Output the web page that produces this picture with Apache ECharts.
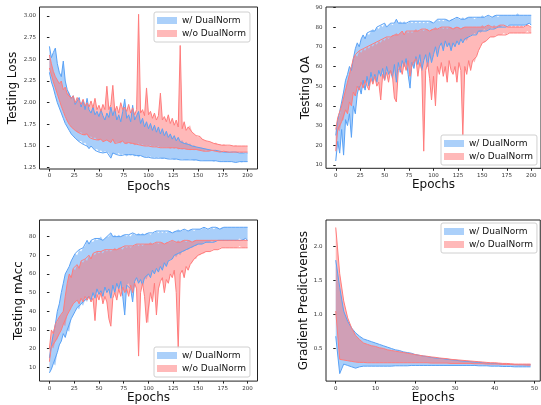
<!DOCTYPE html>
<html><head><meta charset="utf-8">
<script src="https://cdn.jsdelivr.net/npm/echarts@6/dist/echarts.min.js"></script>
<style>html,body{margin:0;padding:0;background:#fff}#c{width:541px;height:405px}</style>
</head><body><div id="c"></div>
<script>
const epochs = [0,2,4,6,8,10,12,14,16,18,20,22,24,26,28,30,32,34,36,38,40,42,44,46,48,50,52,54,56,58,60,62,64,66,68,70,72,74,76,78,80,82,84,86,88,90,92,94,96,98,100,102,104,106,108,110,112,114,116,118,120,122,124,126,128,130,132,134,136,138,140,142,144,146,148,150,152,154,156,158,160,162,164,166,168,170,172,174,176,178,180,182,184,186,188,190,192,194,196,198,200];
const gpEpochs = [0,1,2,3,4,5,6,7,8,9,10,11,12,13,14,15,16,17,18,19,20,21,22,23,24,25,26,27,28,29,30,31,32,33,34,35,36,37,38,39,40,41,42,43,44,45,46,47,48,49];

const epochTicks = [0,25,50,75,100,125,150,175,200];
const gpEpochTicks = [0,10,20,30,40,50];
const lossTicks = [1.25,1.5,1.75,2.0,2.25,2.5,2.75,3.0];
const oaTicks = [10,20,30,40,50,60,70,80,90];
const maccTicks = [10,20,30,40,50,60,70,80];
const gpTicks = [0.5,1.0,1.5,2.0];

const seriesNames = ['w/ DualNorm','w/o DualNorm'];

// Testing Loss
const lossWUp = [2.65,2.52,2.58,2.63,2.45,2.35,2.30,2.48,2.25,2.15,
2.10,2.05,2.08,1.98,2.02,2.06,1.95,2.03,1.92,2.05,
1.92,1.88,1.95,1.86,1.90,1.84,1.92,1.85,1.80,1.88,
1.83,1.95,1.85,1.93,1.80,1.86,1.78,1.90,2.04,1.82,
1.86,1.78,1.97,1.80,1.85,1.90,1.76,1.82,1.72,1.78,
1.70,1.76,1.68,1.74,1.66,1.72,1.64,1.70,1.62,1.67,
1.60,1.64,1.58,1.62,1.56,1.60,1.55,1.57,1.53,1.55,
1.52,1.53,1.50,1.51,1.49,1.49,1.48,1.48,1.47,1.47,
1.46,1.46,1.45,1.45,1.45,1.44,1.44,1.44,1.43,1.44,
1.43,1.43,1.43,1.42,1.43,1.42,1.42,1.42,1.42,1.41,
1.42];
const lossWLo = [2.35,2.24,2.17,2.08,2.00,1.94,1.88,1.82,1.76,1.72,
1.68,1.64,1.62,1.59,1.57,1.55,1.56,1.52,1.54,1.50,
1.47,1.50,1.48,1.45,1.47,1.43,1.45,1.42,1.44,1.43,
1.42,1.36,1.42,1.41,1.40,1.42,1.39,1.41,1.40,1.38,
1.40,1.39,1.40,1.38,1.39,1.37,1.39,1.38,1.37,1.38,
1.37,1.38,1.36,1.37,1.36,1.37,1.36,1.35,1.36,1.36,
1.35,1.36,1.35,1.34,1.35,1.35,1.34,1.35,1.34,1.34,
1.34,1.35,1.34,1.33,1.34,1.33,1.33,1.34,1.33,1.33,
1.33,1.33,1.33,1.32,1.33,1.33,1.32,1.33,1.32,1.32,
1.32,1.32,1.32,1.32,1.31,1.32,1.32,1.31,1.32,1.32,
1.32];
const lossWoUp = [2.55,2.45,2.36,2.30,2.26,2.22,2.25,2.15,2.18,2.10,
2.12,2.05,2.08,2.00,2.06,2.02,1.98,2.04,1.96,2.00,
1.95,2.02,1.94,2.05,1.92,1.97,1.90,1.98,1.92,2.19,
1.92,1.98,2.20,1.90,1.96,1.88,2.00,1.92,1.95,1.90,
1.98,1.88,1.94,1.86,1.92,3.02,1.88,1.92,1.85,2.17,
1.86,1.90,1.82,1.88,1.80,1.85,2.11,1.80,1.84,1.78,
1.86,1.76,1.82,1.74,1.80,1.72,2.66,1.70,1.78,1.68,
1.72,1.74,1.66,1.64,1.62,1.60,1.61,1.58,1.57,1.56,
1.55,1.55,1.54,1.53,1.54,1.52,1.52,1.51,1.52,1.51,
1.50,1.51,1.50,1.50,1.51,1.50,1.50,1.50,1.50,1.50,
1.50];
const lossWoLo = [2.40,2.32,2.24,2.17,2.10,2.03,1.96,1.90,1.84,1.79,
1.75,1.72,1.70,1.68,1.66,1.65,1.66,1.63,1.62,1.64,
1.60,1.61,1.58,1.60,1.57,1.56,1.58,1.55,1.56,1.57,
1.55,1.54,1.58,1.53,1.55,1.54,1.53,1.56,1.53,1.52,
1.54,1.52,1.53,1.51,1.52,1.53,1.51,1.52,1.50,1.51,
1.50,1.51,1.49,1.50,1.49,1.50,1.48,1.49,1.48,1.49,
1.48,1.47,1.48,1.47,1.48,1.46,1.47,1.46,1.47,1.46,
1.46,1.45,1.46,1.45,1.46,1.45,1.45,1.45,1.44,1.45,
1.44,1.44,1.45,1.44,1.44,1.44,1.43,1.44,1.44,1.43,
1.43,1.44,1.43,1.43,1.43,1.43,1.43,1.42,1.43,1.43,
1.43];

// Testing OA
const oaWUp = [25,33,37,42,47,53,56,60,58,64,
69,72,70,74,76,74,77,76,78,79,
78,80,79,81,80,82,80,81,82,81,
82,84,82,83,82,83,82,82,83,82,
83,82,83,82,83,82,83,82,83,83,
82,83,84,83,84,83,84,84,83,84,
84,84,85,84,84,85,84,85,85,85,
85,84,85,85,85,86,85,85,86,85,
85,86,86,85,86,86,86,86,86,86,
86,86,86,87,86,86,86,86,86,86,
86];
const oaWLo = [12,22,16,28,15,33,30,36,24,40,
36,46,50,46,53,48,55,50,57,52,
56,52,58,55,59,53,60,56,58,54,
61,52,62,57,63,60,64,56,49,62,
59,65,61,66,58,63,66,60,67,62,
66,70,65,70,72,68,73,70,72,68,
72,70,73,71,74,72,74,73,75,76,
76,77,76,78,77,78,79,78,79,79,
80,79,80,80,80,80,81,80,81,81,
81,81,81,81,81,81,81,81,81,82,
81];
const oaWoUp = [28,34,35,40,44,48,52,56,60,64,
66,65,68,67,69,68,70,69,71,70,
72,71,73,72,74,73,75,74,75,76,
76,77,76,77,78,76,78,77,78,77,
78,79,78,78,79,78,79,79,78,79,
79,80,79,79,80,79,80,79,80,80,
79,80,80,80,79,80,80,80,80,80,
80,80,80,80,80,81,80,80,81,80,
80,81,80,80,81,80,81,80,80,81,
80,81,80,81,80,81,80,80,81,80,
80];
const oaWoLo = [17,28,27,32,33,38,36,42,40,47,
45,50,48,52,49,53,50,48,54,51,
55,50,52,43,56,53,57,52,58,55,
44,42,58,60,56,62,58,63,55,61,
60,64,55,62,58,17,58,62,54,43,
55,40,60,56,62,55,60,52,63,58,
56,60,52,62,58,25,60,56,63,58,
63,62,65,68,70,72,72,73,74,75,
75,75,76,76,76,76,77,76,77,77,
77,77,77,77,77,77,77,77,78,77,
77];

// Testing mAcc
const maccWUp = [15,22,28,33,40,44,50,55,60,62,
64,67,69,71,70,73,72,74,75,78,
76,78,77,79,78,79,80,78,79,80,
80,82,80,81,80,81,80,81,81,80,
81,80,82,81,81,82,81,82,81,82,
82,81,82,82,83,82,83,82,83,82,
83,83,82,83,83,84,83,83,84,83,
83,84,84,83,84,84,84,84,85,84,
84,84,85,84,85,85,84,85,85,85,
85,85,85,85,85,85,85,85,85,85,
85];
const maccWLo = [7,9,12,11,18,22,24,28,26,30,
29,36,38,40,42,41,44,43,46,45,
48,46,50,47,52,49,51,48,53,50,
52,47,54,50,55,52,56,48,38,54,
55,52,45,56,58,55,57,54,58,57,
60,58,62,60,63,61,64,62,66,64,
67,68,68,70,69,71,70,72,72,73,
73,74,74,75,75,76,76,76,77,77,
77,77,78,77,78,78,78,78,78,78,
78,78,78,78,78,78,79,78,78,79,
78];
const maccWoUp = [20,30,28,33,34,37,38,40,48,55,
60,58,63,62,65,63,67,66,68,67,
70,68,71,70,72,71,72,71,73,72,
73,72,73,74,73,74,74,73,75,74,
75,74,75,75,76,75,76,75,76,76,
76,77,76,76,77,76,77,77,76,77,
77,77,78,77,77,78,77,78,78,77,
78,78,77,78,78,78,78,78,78,78,
78,78,78,78,78,78,78,78,78,78,
78,78,78,78,78,78,78,78,78,78,
78];
const maccWoLo = [13,21,20,24,25,28,30,33,32,38,
40,42,44,45,46,44,47,45,48,46,
48,45,47,35,49,46,50,44,48,45,
36,32,47,50,46,52,48,53,50,52,
48,54,50,55,52,16,50,55,48,34,
34,50,45,55,38,52,56,58,50,57,
55,60,58,62,50,20,60,62,58,64,
62,65,66,68,68,70,70,71,71,72,
72,72,73,73,73,73,74,74,74,74,
74,74,74,74,74,74,75,74,74,74,
74];

// Gradient Predictiveness
const gpWUp = [1.80,1.40,1.05,0.90,0.80,0.73,0.68,0.64,0.62,0.60,
0.58,0.56,0.54,0.52,0.50,0.48,0.47,0.45,0.44,0.43,
0.41,0.40,0.39,0.38,0.37,0.36,0.355,0.35,0.34,0.335,
0.33,0.32,0.315,0.31,0.305,0.30,0.295,0.29,0.285,0.28,
0.28,0.275,0.27,0.27,0.265,0.265,0.26,0.26,0.26,0.26];
const gpWLo = [0.68,0.13,0.27,0.25,0.23,0.21,0.23,0.24,0.24,0.24,
0.24,0.24,0.24,0.24,0.24,0.245,0.245,0.245,0.245,0.25,
0.25,0.25,0.25,0.25,0.25,0.25,0.25,0.25,0.25,0.25,
0.25,0.25,0.25,0.25,0.25,0.25,0.245,0.245,0.245,0.24,
0.24,0.24,0.235,0.235,0.235,0.23,0.23,0.23,0.23,0.23];
const gpWoUp = [2.28,1.60,1.20,0.95,0.80,0.69,0.63,0.58,0.56,0.54,
0.53,0.51,0.50,0.48,0.47,0.46,0.45,0.44,0.43,0.42,
0.41,0.40,0.39,0.385,0.375,0.37,0.36,0.355,0.35,0.34,
0.335,0.33,0.325,0.32,0.315,0.31,0.305,0.30,0.295,0.29,
0.29,0.285,0.28,0.28,0.275,0.27,0.27,0.27,0.27,0.27];
const gpWoLo = [1.05,0.34,0.33,0.32,0.31,0.30,0.295,0.295,0.29,0.29,
0.29,0.29,0.29,0.29,0.29,0.29,0.29,0.29,0.29,0.29,
0.29,0.29,0.29,0.29,0.285,0.285,0.285,0.285,0.285,0.28,
0.28,0.28,0.28,0.28,0.28,0.275,0.275,0.275,0.27,0.27,
0.27,0.27,0.265,0.265,0.265,0.26,0.26,0.26,0.255,0.255];

const FONT = 'DejaVu Sans';
const BLUE_LINE = '#5aa2f6', BLUE_FILL = 'rgba(64,148,245,0.45)', BLUE_PATCH = '#abd0fa';
const RED_LINE = '#ff7c7c', RED_FILL = 'rgba(255,100,100,0.45)', RED_PATCH = '#ffb9b9';

const grids = [
  {left:39.5, top:7, width:218, height:162},
  {left:326, top:7, width:218, height:161.3},
  {left:39.5, top:220, width:218, height:161.7},
  {left:326, top:220, width:216, height:161.7}
];

function xAx(gi, min, max, ticks, gap) {
  return {type:'value', gridIndex:gi, min:min, max:max, name:'Epochs', nameLocation:'middle', nameGap:gap,
    nameTextStyle:{fontSize:12, color:'#111', fontFamily:FONT},
    axisLine:{show:false}, splitLine:{show:false},
    axisTick:{show:true, length:2.5, lineStyle:{color:'#222', width:1}, customValues:ticks},
    axisLabel:{fontSize:5.5, color:'#333', fontFamily:FONT, margin:4, customValues:ticks}};
}
function yAx(gi, min, max, ticks, name, gap, dec) {
  return {type:'value', gridIndex:gi, min:min, max:max, name:name, nameLocation:'middle', nameGap:gap,
    nameTextStyle:{fontSize:12, color:'#111', fontFamily:FONT},
    axisLine:{show:false}, splitLine:{show:false},
    axisTick:{show:true, length:2.5, lineStyle:{color:'#222', width:1}, customValues:ticks},
    axisLabel:{fontSize:5.5, color:'#333', fontFamily:FONT, margin:3.5, customValues:ticks,
      formatter: v => dec >= 0 ? Number(v).toFixed(dec) : String(v)}};
}

function band(gi, xs, lo, up, name, line, fill) {
  const base = {xAxisIndex:gi, yAxisIndex:gi, silent:true, animation:false};
  const lineBase = Object.assign({}, base, {type:'line', symbol:'none', emphasis:{disabled:true},
    lineStyle:{color:line, width:1}, itemStyle:{color:line}});
  return [
    Object.assign({}, base, {type:'custom', name:name, itemStyle:{color:fill},
      data:[[xs[0], lo[0]]],
      renderItem: function (params, api) {
        const pts = [];
        for (let i = 0; i < xs.length; i++) pts.push(api.coord([xs[i], up[i]]));
        for (let i = xs.length - 1; i >= 0; i--) pts.push(api.coord([xs[i], lo[i]]));
        return {type:'polygon', shape:{points:pts}, style:{fill:fill, stroke:null}};
      }}),
    Object.assign({}, lineBase, {data: xs.map((x, i) => [x, up[i]])}),
    Object.assign({}, lineBase, {data: xs.map((x, i) => [x, lo[i]])})
  ];
}

const series = [].concat(
  band(0, epochs, lossWLo, lossWUp, seriesNames[0], BLUE_LINE, BLUE_FILL),
  band(0, epochs, lossWoLo, lossWoUp, seriesNames[1], RED_LINE, RED_FILL),
  band(1, epochs, oaWLo, oaWUp, seriesNames[0], BLUE_LINE, BLUE_FILL),
  band(1, epochs, oaWoLo, oaWoUp, seriesNames[1], RED_LINE, RED_FILL),
  band(2, epochs, maccWLo, maccWUp, seriesNames[0], BLUE_LINE, BLUE_FILL),
  band(2, epochs, maccWoLo, maccWoUp, seriesNames[1], RED_LINE, RED_FILL),
  band(3, gpEpochs, gpWLo, gpWUp, seriesNames[0], BLUE_LINE, BLUE_FILL),
  band(3, gpEpochs, gpWoLo, gpWoUp, seriesNames[1], RED_LINE, RED_FILL)
);

const legendPos = [[154,12],[441,135],[154,347],[441,223]];
const legend = legendPos.map(p => ({
  left:p[0], top:p[1], orient:'vertical', icon:'rect', itemWidth:20, itemHeight:7, itemGap:4,
  padding:[4,4,4,3], borderColor:'#d0d0d0', borderWidth:1, borderRadius:2,
  backgroundColor:'rgba(255,255,255,0.85)', selectedMode:false,
  textStyle:{fontSize:9, color:'#111', fontFamily:FONT},
  data:[{name:seriesNames[0], itemStyle:{color:BLUE_PATCH, borderWidth:0}},
        {name:seriesNames[1], itemStyle:{color:RED_PATCH, borderWidth:0}}]
}));

const chart = echarts.init(document.getElementById('c'), null, {renderer:'canvas'});
chart.setOption({
  animation:false,
  backgroundColor:'#fff',
  grid: grids.map(g => Object.assign({show:true, borderColor:'#222', borderWidth:1, backgroundColor:'transparent'}, g)),
  xAxis:[
    xAx(0, -10, 210, epochTicks, 11.5),
    xAx(1, -10, 210, epochTicks, 11),
    xAx(2, -10, 210, epochTicks, 10.5),
    xAx(3, -2.45, 51.45, gpEpochTicks, 10.5)
  ],
  yAxis:[
    yAx(0, 1.235, 3.104, lossTicks, 'Testing Loss', 21, 2),
    yAx(1, 8.3, 90.2, oaTicks, 'Testing OA', 14, -1),
    yAx(2, 2.6, 88.9, maccTicks, 'Testing mAcc', 14, -1),
    yAx(3, 0.02, 2.39, gpTicks, 'Gradient Predictveness', 16.5, 1)
  ],
  legend: legend,
  series: series
});
</script></body></html>
